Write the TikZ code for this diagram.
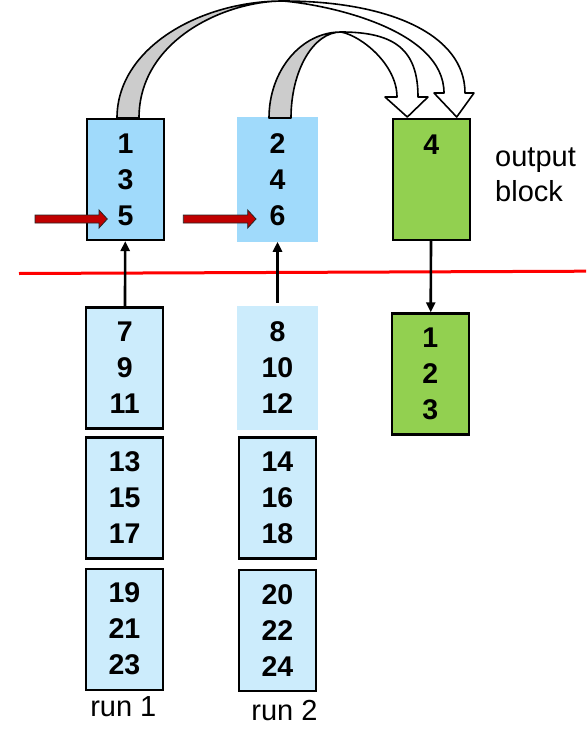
\documentclass[tikz,border=0pt]{standalone}
\usepackage{fontspec}
\setmainfont{Liberation Sans}
\usetikzlibrary{arrows.meta}
\definecolor{bluedark}{RGB}{160,218,251}
\definecolor{bluelight}{RGB}{204,236,252}
\definecolor{greenb}{RGB}{146,208,80}
\definecolor{grayband}{RGB}{204,204,204}
\definecolor{redarrow}{RGB}{192,0,0}
\begin{document}
\begin{tikzpicture}[x=1pt,y=-1pt,
  numfont/.style={font=\fontsize{28.5}{36}\selectfont\bfseries},
  labfont/.style={font=\fontsize{29}{35}\selectfont},
  blk/.style={numfont, align=center, inner sep=0pt, text=black},
  bordered/.style={blk, draw=black, line width=2.2pt, minimum width=77pt, minimum height=121pt},
  topblue/.style={bordered, fill=bluedark},
  lowblue/.style={bordered, fill=bluelight},
  greenbox/.style={bordered, fill=greenb},
  plaindark/.style={blk, fill=bluedark, minimum width=81pt, minimum height=124.5pt},
  plainlight/.style={blk, fill=bluelight, minimum width=81pt, minimum height=124pt},
  conn/.style={-{Triangle[length=10pt,width=9pt]}, line width=2.6pt},
  redarr/.style={fill=redarrow, draw=black!85, line width=0.8pt, line join=miter},
  band/.style={draw=black, line width=1.6pt, line join=round},
  redline/.style={draw=red, line width=3pt}
]
\fill[white] (0,0) rectangle (586,733);
\useasboundingbox (0,0) rectangle (586,733);

% top blocks
\node[topblue]   (A) at (125.5,179.5) {1\\3\\5};
\node[plaindark] (B) at (277.5,179.3) {2\\4\\6};
\node[greenbox]  (O) at (431.3,179.2) {};
\node[numfont, anchor=base, inner sep=0pt] (o4) at (431.3,154) {4};
\node[labfont, anchor=base west, inner sep=0pt] (ob) at (495,166.7)
  {\begin{tabular}[t]{@{}l@{}}output\\block\end{tabular}};

% lower blocks
\node[lowblue]    (C) at (124.7,367.9) {7\\9\\11};
\node[plainlight] (D) at (277.5,368)   {8\\10\\12};
\node[greenbox]   (O2) at (430.4,374)  {1\\2\\3};
\node[lowblue]    (E) at (124.7,497.9) {13\\15\\17};
\node[lowblue]    (F) at (277.5,497.9) {14\\16\\18};
\node[lowblue]    (G) at (124.5,629.2) {19\\21\\23};
\node[lowblue]    (H) at (277.5,630.7) {20\\22\\24};

\node[labfont, anchor=base, inner sep=0pt] (r1) at (123.3,716.7) {run 1};
\node[labfont, anchor=base, inner sep=0pt] (r2) at (284.5,720) {run 2};

% red separator line
\coordinate (L1) at (19,273.5);
\coordinate (L2) at (586,271.2);
\draw[redline] (L1) -- (L2);

% black connectors
\draw[conn] (C) -- (A);
\draw[conn, shorten <=3pt] (D) -- (B);
\draw[conn] (O) -- (O2);

% red block arrows
\draw[redarr] (35,215) -- (99,215) -- (99,210) -- (107.3,219) -- (99,228) -- (99,223) -- (35,223) -- cycle;
\draw[redarr] (183.3,215) -- (247.7,215) -- (247.7,210) -- (256,219) -- (247.7,228) -- (247.7,223) -- (183.3,223) -- cycle;

% curved arrow from run 1
\draw[band, fill=grayband] (117,118) .. controls (117,48) and (200,1) .. (283,1)
   .. controls (225,1) and (139,40) .. (139,118) -- cycle;
\draw[band, fill=white] (283,1) .. controls (390,1) and (465,35) .. (465,93)
   -- (474,93) -- (456.7,117) -- (434,93) -- (444,93)
   .. controls (444,30) and (330,5) .. (283,1) -- cycle;

% curved arrow from run 2
\draw[band, fill=grayband] (269,118) .. controls (269,70.5) and (301.2,32) .. (341,32)
   .. controls (313.4,32) and (291,70.5) .. (291,118) -- cycle;
\draw[band, fill=white] (341,32) .. controls (395,32) and (418,50) .. (418,97)
   -- (428,97) -- (407.3,117) -- (385,97) -- (397,97)
   .. controls (397,65) and (362,36) .. (341,32) -- cycle;
\end{tikzpicture}
\end{document}
